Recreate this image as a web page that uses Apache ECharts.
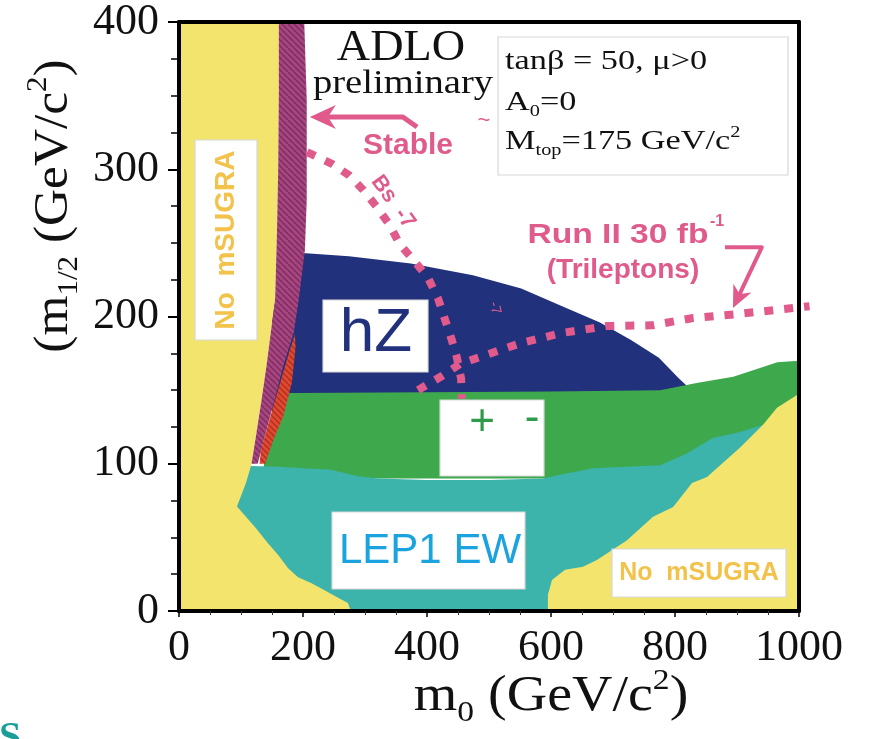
<!DOCTYPE html>
<html><head><meta charset="utf-8">
<script src="https://cdn.jsdelivr.net/npm/echarts@6/dist/echarts.min.js"></script>
<style>html,body{margin:0;padding:0;background:#fff}#c{width:873px;height:739px}</style>
</head><body><div id="c"></div>
<script>
// ---- axes ----
const xTicks = [0, 200, 400, 600, 800, 1000];
const yTicks = [0, 100, 200, 300, 400];

// ---- regions (m0, m1/2) ----
const yellowLeft = [[0,0],[0,400],[161,400],[161,350],[160,300],[158,257],[155,211],[148,189],[141,166],[133,143],[125,121],[117,100],[116,98.5],[108,87],[93.5,71],[122.5,57],[143.5,46],[160,38],[176,29],[192,23],[213,19],[235.5,14],[256.5,9],[272.5,5.4],[277,0]];
const yellowRight = [[595,0],[595,11],[601.6,21],[622.6,28],[651.6,30],[674,34.6],[722.6,48],[764.5,64],[797,70.6],[827.4,87],[851.6,91],[905,111],[942,126.5],[964.5,138],[998,147],[1000,147],[1000,0]];
const magentaBand = [[161,400],[161,350],[160,300],[158,257],[155,211],[148,189],[141,166],[133,143],[125,121],[117,100],[127,100],[140,121],[154,143],[168,166],[185,189],[193,211],[203,245],[206,279],[206,347],[202,400]];
const redSliver = [[187,188],[188,179],[182,155],[168,132],[152,116],[139,100],[130,100],[132,109],[146,130],[161,152],[177,175]];
const hzRegion = [[170,243],[205,243],[274,241],[374,236],[474,228],[552,219],[618,207],[679,196],[729,184],[774,172],[806,158],[829,149],[829,140],[178,140],[150,120],[150,200]];
const charginoRegion = [[178,148],[190,148],[400,148.5],[600,149],[776,150],[837,155],[894,159],[937,165],[965,169],[1000,170],[1000,90],[137,90],[137,100]];
const lep1Region = [[116,98.5],[160,98],[245,96],[289,91.5],[321,90],[400,89],[500,89],[587,90],[614.5,92.5],[668,97],[776,99],[819,107],[861,117.5],[905,121.5],[942,126.5],[960,126.5],[960,0],[90,0],[90,98.5]];

// ---- dotted curves ----
const bsgLine = [[206.5,311.7],[247,303.6],[274,296],[297,286],[318,275],[340,262],[356,249],[379,238],[402,226],[418,212],[429,198],[440,184],[448,172.5],[455,158],[456,144]];
const runIILine = [[385.5,150],[424,159.6],[453,167.7],[485.5,172.5],[551.6,182],[617.7,188.8],[690,193.5],[763,194],[829,199],[901.6,201.7],[974,205],[1017,207]];

// ---- arrows ----
const stableArrow = [[384,328.7],[361,335.5],[211,335.5]];
const runIIArrow = [[880.6,247],[940,247],[893.5,205.8]];

const C = {
  yellow:'#F2E46C', magenta:'#A64580', magentaH:'#7A2C5C', red:'#E2472F', redH:'#A8301F',
  blue:'#22317B', green:'#3EA84D', teal:'#3CB3AB', pink:'#E05A8C', orange:'#F2C24B',
  lep:'#1BA3DF', pm:'#2E9A4A'
};

function hatch(bg, fg, size){
  const c=document.createElement('canvas'); c.width=c.height=size;
  const g=c.getContext('2d'); g.fillStyle=bg; g.fillRect(0,0,size,size);
  g.strokeStyle=fg; g.lineWidth=1.3; g.beginPath();
  for(const k of [-size,0,size]){ g.moveTo(0,k); g.lineTo(size,k+size); }
  g.stroke(); return {image:c, repeat:'repeat'};
}

function region(pts, fill){
  return {type:'custom', coordinateSystem:'cartesian2d', silent:true, animation:false, z:2,
    data:[[pts[0][0],pts[0][1]]],
    renderItem:function(params, api){
      return {type:'polygon', shape:{points:pts.map(p=>api.coord(p))}, style:{fill:fill}};
    }};
}
function dotted(pts, color){
  return {type:'custom', coordinateSystem:'cartesian2d', silent:true, animation:false, z:3,
    data:[[pts[0][0],pts[0][1]]],
    renderItem:function(params, api){
      return {type:'polyline', shape:{points:pts.map(p=>api.coord(p))},
        style:{stroke:color, lineWidth:8, lineDash:[9,11], fill:null, lineCap:'butt'}};
    }};
}
function arrow(pts, color, lw, hl, hw){
  return {type:'custom', coordinateSystem:'cartesian2d', silent:true, animation:false, z:3,
    data:[[pts[0][0],pts[0][1]]],
    renderItem:function(params, api){
      const P=pts.map(p=>api.coord(p));
      const a=P[P.length-2], b=P[P.length-1];
      const dx=b[0]-a[0], dy=b[1]-a[1], L=Math.hypot(dx,dy), ux=dx/L, uy=dy/L;
      const base=[b[0]-ux*hl, b[1]-uy*hl];
      const line=P.slice(0,-1).concat([[b[0]-ux*hl*0.6, b[1]-uy*hl*0.6]]);
      return {type:'group', children:[
        {type:'polyline', shape:{points:line}, style:{stroke:color, lineWidth:lw, fill:null, lineJoin:'round'}},
        {type:'polygon', shape:{points:[b,[base[0]-uy*hw,base[1]+ux*hw],[b[0]-ux*hl*0.7,b[1]-uy*hl*0.7],[base[0]+uy*hw,base[1]-ux*hw]]}, style:{fill:color}}
      ]};
    }};
}

const serif='Liberation Serif', sans='Liberation Sans';
function box(x,y,w,h){ return {type:'rect', z:100, shape:{x:x,y:y,width:w,height:h}, style:{fill:'#fff', stroke:'#d8d8d8', lineWidth:1.2}}; }
function txt(x,y,text,o){
  o=o||{};
  return {type:'text', z:101, x:x, y:y, rotation:o.rot||0, scaleX:o.sx||1,
    style:{text:text, fontSize:o.fs||20, fontFamily:o.ff||sans, fontWeight:o.fw||'normal', fill:o.c||'#111',
      align:o.al||'center', verticalAlign:o.va||'middle', rich:o.rich}};
}

const richSerif = function(fs){ return {
  n:{fontSize:fs, fontFamily:serif, fill:'#111', lineHeight:fs*1.25, verticalAlign:'middle'},
  sub:{fontSize:Math.round(fs*0.6), fontFamily:serif, fill:'#111', lineHeight:Math.round(fs*0.6), verticalAlign:'bottom'},
  sup:{fontSize:Math.round(fs*0.6), fontFamily:serif, fill:'#111', lineHeight:Math.round(fs*0.6), verticalAlign:'top'}
};};

const chart = echarts.init(document.getElementById('c'), null, {renderer:'canvas'});
const xMin=xTicks[0], xMax=xTicks[xTicks.length-1], xStep=xTicks[1]-xTicks[0];
const yMin=yTicks[0], yMax=yTicks[yTicks.length-1], yStep=yTicks[1]-yTicks[0];
const plain = v => String(v);

chart.setOption({
  animation:false,
  backgroundColor:'#fff',
  grid:{left:179, right:74, top:22, bottom:128, show:true, backgroundColor:'#fff', borderWidth:0},
  xAxis:[
    {type:'value', min:xMin, max:xMax, interval:xStep, position:'bottom', z:10,
     axisLine:{show:true, onZero:false, lineStyle:{color:'#000', width:4}},
     axisTick:{show:true, length:6, lineStyle:{color:'#000', width:1.5}},
     minorTick:{show:true, splitNumber:4, length:4, lineStyle:{color:'#333', width:1}},
     splitLine:{show:false},
     axisLabel:{fontFamily:serif, fontSize:44, color:'#111', margin:15, formatter:plain}},
    {type:'value', min:xMin, max:xMax, interval:xStep, position:'top', z:10,
     axisLine:{show:true, onZero:false, lineStyle:{color:'#000', width:4}},
     axisTick:{show:false}, axisLabel:{show:false}, splitLine:{show:false}}
  ],
  yAxis:[
    {type:'value', min:yMin, max:yMax, interval:yStep, position:'left', z:10,
     axisLine:{show:true, onZero:false, lineStyle:{color:'#000', width:4}},
     axisTick:{show:true, length:11, lineStyle:{color:'#000', width:2}},
     minorTick:{show:true, splitNumber:4, length:8, lineStyle:{color:'#000', width:1.5}},
     splitLine:{show:false},
     axisLabel:{fontFamily:serif, fontSize:44, color:'#111', margin:20, formatter:plain}},
    {type:'value', min:yMin, max:yMax, interval:yStep, position:'right', z:10,
     axisLine:{show:true, onZero:false, lineStyle:{color:'#000', width:4}},
     axisTick:{show:false}, axisLabel:{show:false}, splitLine:{show:false}}
  ],
  series:[
    region(hzRegion, C.blue),
    region(charginoRegion, C.green),
    region(lep1Region, C.teal),
    region(yellowLeft, C.yellow),
    region(yellowRight, C.yellow),
    region(magentaBand, hatch(C.magenta, C.magentaH, 6)),
    region(redSliver, hatch(C.red, C.redH, 6)),
    dotted(bsgLine, C.pink),
    dotted(runIILine, C.pink),
    arrow(stableArrow, C.pink, 5, 26, 12),
    arrow(runIIArrow, C.pink, 4, 22, 10)
  ],
  graphic:[
    // axis titles
    txt(551, 697, '{n|m}{sub|0}{n| (GeV/c}{sup|2}{n|)}', {rich:richSerif(50), sx:1.12}),
    txt(54, 206, '{n|(m}{sub|1/2}{n| (GeV/c}{sup|2}{n|)}', {rich:richSerif(48), rot:Math.PI/2, sx:1.07}),
    // ADLO
    txt(401, 48, 'ADLO', {ff:serif, fs:44, sx:1.05}),
    txt(403, 84, 'preliminary', {ff:serif, fs:33, sx:1.17}),
    // parameter box
    box(498, 37, 290, 138),
    txt(505, 62, 'tanβ = 50, μ>0', {ff:serif, fs:27, sx:1.27, al:'left'}),
    txt(505, 103, '{n|A}{sub|0}{n|=0}', {rich:richSerif(27), sx:1.27, al:'left'}),
    txt(505, 142, '{n|M}{sub|top}{n|=175 GeV/c}{sup|2}', {rich:richSerif(27), sx:1.27, al:'left'}),
    // No mSUGRA boxes
    box(195, 140, 62, 200),
    txt(226, 240, 'No  mSUGRA', {fs:28, fw:'bold', c:C.orange, rot:Math.PI/2}),
    box(612, 549, 174, 48),
    txt(699, 573, 'No  mSUGRA', {fs:25, fw:'bold', c:C.orange}),
    // hZ
    box(323, 300, 105, 72),
    txt(376, 334, 'hZ', {fs:62, c:C.blue}),
    // + -
    box(440, 400, 104, 76),
    txt(482, 423, '+', {fs:44, c:C.pm}),
    txt(532, 419, '-', {fs:44, c:C.pm}),
    // LEP1 EW
    box(332, 512, 193, 77),
    txt(430, 551, 'LEP1 EW', {fs:42, c:C.lep}),
    // pink labels
    txt(408, 146, 'Stable', {fs:30, fw:'bold', c:C.pink}),
    txt(484, 121, '~', {fs:22, c:C.pink}),
    txt(393, 202, 'Bs  -7', {fs:22, fw:'bold', c:C.pink, rot:-0.95}),
    txt(495, 308, '-7', {fs:14, c:C.pink, rot:-1.3}),
    txt(618, 235, 'Run II 30 fb', {fs:28, fw:'bold', c:C.pink, sx:1.2}),
    txt(717, 222, '-1', {fs:16, fw:'bold', c:C.pink}),
    txt(623, 270, '(Trileptons)', {fs:28, fw:'bold', c:C.pink}),
    // cut-off letter at the bottom-left
    txt(10, 719, 'S', {ff:serif, fs:40, fw:'bold', c:'#1A9E9A', va:'top'})
  ]
});
</script></body></html>
